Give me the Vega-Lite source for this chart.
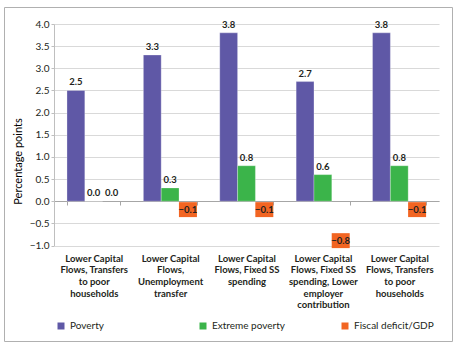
{
  "$schema": "https://vega.github.io/schema/vega-lite/v6.json",
  "width": 448,
  "height": 334,
  "autosize": {"type": "none"},
  "padding": {"left": 4, "top": 7, "right": 4, "bottom": 6},
  "background": "white",
  "config": {
    "view": {"stroke": "#b0b0b0", "strokeWidth": 1},
    "font": "Lato"
  },
  "data": {
    "values": [
      {"scenario": "Lower Capital|Flows, Transfers|to poor|households", "series": "Poverty", "value": 2.5},
      {"scenario": "Lower Capital|Flows, Transfers|to poor|households", "series": "Extreme poverty", "value": 0.0},
      {"scenario": "Lower Capital|Flows, Transfers|to poor|households", "series": "Fiscal deficit/GDP", "value": 0.0},
      {"scenario": "Lower Capital|Flows,|Unemployment|transfer", "series": "Poverty", "value": 3.3},
      {"scenario": "Lower Capital|Flows,|Unemployment|transfer", "series": "Extreme poverty", "value": 0.3},
      {"scenario": "Lower Capital|Flows,|Unemployment|transfer", "series": "Fiscal deficit/GDP", "value": -0.1},
      {"scenario": "Lower Capital|Flows, Fixed SS|spending", "series": "Poverty", "value": 3.8},
      {"scenario": "Lower Capital|Flows, Fixed SS|spending", "series": "Extreme poverty", "value": 0.8},
      {"scenario": "Lower Capital|Flows, Fixed SS|spending", "series": "Fiscal deficit/GDP", "value": -0.1},
      {"scenario": "Lower Capital|Flows, Fixed SS|spending, Lower|employer|contribution", "series": "Poverty", "value": 2.7},
      {"scenario": "Lower Capital|Flows, Fixed SS|spending, Lower|employer|contribution", "series": "Extreme poverty", "value": 0.6},
      {"scenario": "Lower Capital|Flows, Fixed SS|spending, Lower|employer|contribution", "series": "Fiscal deficit/GDP", "value": -0.8},
      {"scenario": "Lower Capital|Flows, Transfers|to poor|households ", "series": "Poverty", "value": 3.8},
      {"scenario": "Lower Capital|Flows, Transfers|to poor|households ", "series": "Extreme poverty", "value": 0.8},
      {"scenario": "Lower Capital|Flows, Transfers|to poor|households ", "series": "Fiscal deficit/GDP", "value": -0.1}
    ]
  },
  "encoding": {
    "x": {
      "field": "scenario",
      "type": "nominal",
      "sort": null,
      "scale": {"range": [50, 435], "paddingInner": 0.3, "paddingOuter": 0.17},
      "axis": {
        "title": null,
        "orient": "bottom",
        "offset": -140,
        "domainColor": "#a6a6a6",
        "tickColor": "#a6a6a6",
        "tickSize": 4,
        "tickBand": "extent",
        "grid": false,
        "labelAngle": 0,
        "labelPadding": 48,
        "labelBaseline": "top",
        "labelFontSize": 9.5,
        "labelFontWeight": "bold",
        "labelColor": "#231f20",
        "labelLineHeight": 11.7,
        "labelExpr": "split(datum.label, '|')"
      }
    },
    "xOffset": {
      "field": "series",
      "type": "nominal",
      "sort": ["Poverty", "Extreme poverty", "Fiscal deficit/GDP"],
      "scale": {"domain": ["Poverty", "Extreme poverty", "Fiscal deficit/GDP"]}
    },
    "y": {
      "field": "value",
      "type": "quantitative",
      "scale": {"domain": [-1, 4], "range": [238.5, 17], "nice": false, "zero": false},
      "axis": {
        "title": "Percentage points",
        "offset": -50,
        "values": [-1, -0.5, 0, 0.5, 1, 1.5, 2, 2.5, 3, 3.5, 4],
        "format": ".1f",
        "domain": true,
        "domainColor": "#bfbfbf",
        "ticks": true,
        "tickSize": 3,
        "tickColor": "#bfbfbf",
        "gridColor": "#d9d9d9",
        "labelFontSize": 10,
        "labelColor": "#231f20",
        "labelPadding": 2,
        "titleFontSize": 11,
        "titleFontWeight": "normal",
        "titleColor": "#000000",
        "titleAngle": 270,
        "titleAlign": "center",
        "titleBaseline": "middle",
        "titleX": -36,
        "titleY": 154
      }
    }
  },
  "layer": [
    {
      "transform": [{"filter": "datum.series !== 'Fiscal deficit/GDP'"}],
      "mark": {"type": "bar", "strokeWidth": 0.8, "strokeOpacity": 0.35, "stroke": "white"},
      "encoding": {
        "color": {
          "field": "series",
          "type": "nominal",
          "scale": {
            "domain": ["Poverty", "Extreme poverty", "Fiscal deficit/GDP"],
            "range": ["#5f58a6", "#3bb44a", "#f26522"]
          },
          "legend": {
            "title": null,
            "orient": "none",
            "legendX": 52,
            "legendY": 314,
            "direction": "horizontal",
            "columns": 3,
            "gridAlign": "all",
            "columnPadding": 48,
            "symbolType": "square",
            "symbolSize": 49,
            "symbolStrokeWidth": 0,
            "symbolOpacity": 1,
            "labelFontSize": 10,
            "labelColor": "#231f20",
            "labelOffset": 4,
            "labelLimit": 200
          }
        }
      }
    },
    {
      "transform": [{"filter": "datum.value < 0"}],
      "mark": {
        "type": "point",
        "shape": "M-1,-0.83H1V0.83H-1Z",
        "filled": true,
        "color": "#f26522",
        "opacity": 1,
        "size": 324
      },
      "encoding": {
        "yOffset": {"value": 4}
      }
    },
    {
      "transform": [{"filter": "datum.value < 0"}],
      "mark": {"type": "text", "baseline": "middle", "dy": 4, "fontSize": 9.5, "fontWeight": "bold", "color": "#231f20"},
      "encoding": {"text": {"field": "value", "type": "quantitative", "format": ".1f"}}
    },
    {
      "transform": [{"filter": "datum.value >= 0"}],
      "mark": {"type": "text", "baseline": "bottom", "dy": -3, "fontSize": 9.5, "fontWeight": "bold", "color": "#231f20"},
      "encoding": {"text": {"field": "value", "type": "quantitative", "format": ".1f"}}
    }
  ]
}
